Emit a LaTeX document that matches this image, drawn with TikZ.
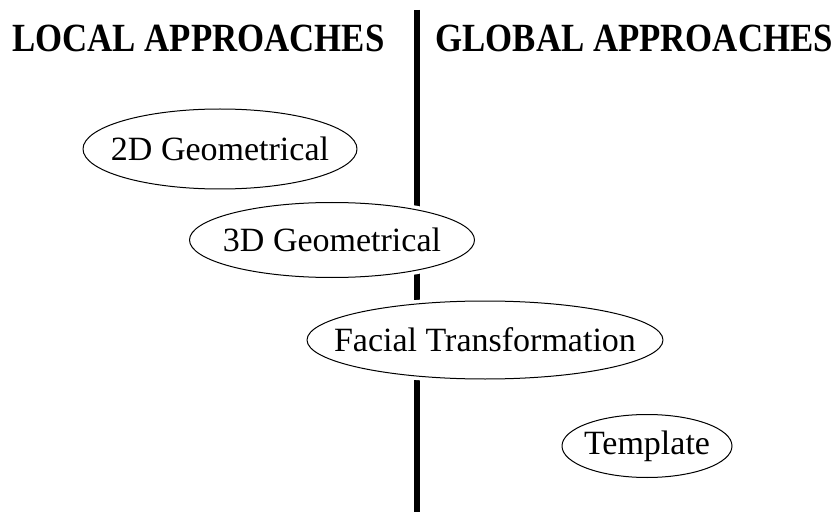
\documentclass[tikz,border=0pt]{standalone}
\usepackage{fontspec}
\setmainfont{Liberation Serif}
\tikzset{
  ring/.style={draw,fill=white,line width=1pt,preaction={draw=white,line width=8pt}},
  approach/.style={inner sep=0pt,font=\fontsize{34}{40}\selectfont},
  side/.style={inner sep=0pt,font=\fontsize{40}{48}\selectfont\bfseries,xscale=0.87,transform shape}
}
\begin{document}
\begin{tikzpicture}[x=1pt,y=-1pt,line cap=round,line join=round]
	\useasboundingbox (0,0) rectangle (836,516);
	% dividing line
	\coordinate (top) at (417,10);
	\coordinate (bot) at (417,512);
	\draw[line width=6pt,line cap=butt] (top) -- (bot);
	\node[side,anchor=base west] (local) at (12,52) {LOCAL APPROACHES};
	\node[side,anchor=base east] (global) at (833,52) {GLOBAL APPROACHES};
	% approaches
	\draw[ring] (220,149) ellipse [x radius=137,y radius=40] node[approach] (geo2d) {2D Geometrical};
	\draw[ring] (332,240) ellipse [x radius=142.5,y radius=37.5] node[approach] (geo3d) {3D Geometrical};
	\draw[ring] (485,340) ellipse [x radius=178,y radius=39] node[approach] (facial) {Facial Transformation};
	\draw[ring] (647,446) ellipse [x radius=85,y radius=31.5] node[approach] (template) {Template};
\end{tikzpicture}
\end{document}
